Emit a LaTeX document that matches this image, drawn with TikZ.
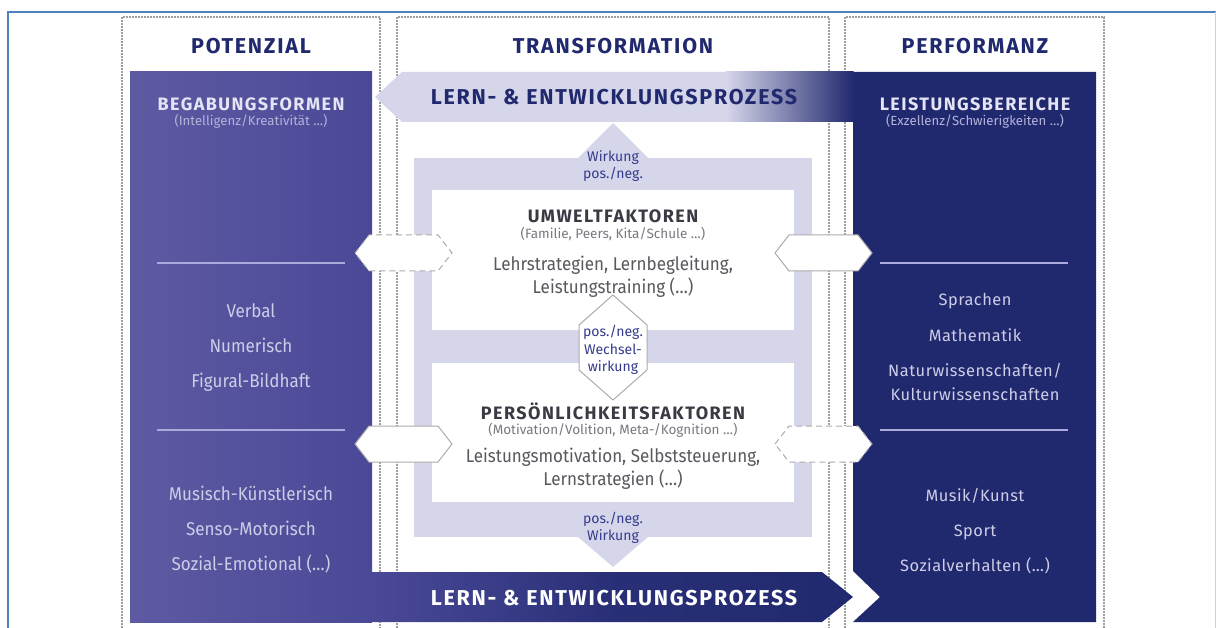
\documentclass[tikz,border=0pt]{standalone}
\usepackage{fontspec}
\setmainfont{Fira Sans}
\newfontfamily\spacedfont{Fira Sans}[LetterSpace=8]
\newfontfamily\narrowfont{Fira Sans}[FakeStretch=0.92]
\newfontfamily\widefont{Fira Sans}[LetterSpace=3]
\usepackage{tikz}
\usetikzlibrary{positioning}
\definecolor{navy}{RGB}{33,41,110}
\definecolor{lpurple}{RGB}{94,90,162}
\definecolor{mpurple}{RGB}{74,73,151}
\definecolor{lav}{RGB}{214,214,235}
\definecolor{framebl}{RGB}{79,129,189}
\definecolor{seplav}{RGB}{170,170,220}
\definecolor{boxhead}{RGB}{228,228,244}
\definecolor{boxsub}{RGB}{178,178,218}
\definecolor{itemlav}{RGB}{205,205,232}
\definecolor{darkgr}{RGB}{58,58,68}
\definecolor{midgr}{RGB}{120,120,128}
\definecolor{bodygr}{RGB}{88,88,94}
\definecolor{effblue}{RGB}{52,58,140}
\tikzset{
	col_head/.style = {font=\spacedfont\bfseries\fontsize{21.5}{23}\selectfont, text=navy},% Spaltenkopf
	proc_txt/.style = {font=\spacedfont\bfseries\fontsize{21.5}{24}\selectfont},% Prozesspfeil
	box_head/.style = {font=\spacedfont\bfseries\fontsize{18}{20}\selectfont, text=boxhead},
	box_sub/.style = {font=\fontsize{13.2}{15}\selectfont, text=boxsub},
	item_l/.style = {font=\narrowfont\fontsize{18.5}{20}\selectfont, text=itemlav,
		inner sep=0pt, text height=12.5pt, text depth=3.5pt},
	item_r/.style = {font=\widefont\fontsize{16.4}{22}\selectfont, text=itemlav,
		inner sep=0pt, text height=11.5pt, text depth=3.5pt},
	fac_head/.style = {font=\spacedfont\bfseries\fontsize{18}{20}\selectfont, text=darkgr},
	fac_sub/.style = {font=\fontsize{13.5}{15}\selectfont, text=midgr},
	fac_body/.style = {font=\narrowfont\fontsize{18.5}{23.5}\selectfont, text=bodygr, align=center},
	effect/.style = {font=\fontsize{14}{17.5}\selectfont, text=effblue, align=center},
	dot_col/.style = {draw=gray!75, line width=1.6pt, dash pattern=on 1.6pt off 1.4pt},
	link_hex/.style = {fill=white, draw=gray!65, line width=1pt},% Verbindungs-Sechseck
	ldash/.style = {dash pattern=on 6pt off 4pt},
	sep_line/.style = {draw=seplav, line width=1.5pt}
}
\begin{document}
\begin{tikzpicture}[x=1pt, y=-1pt]
\useasboundingbox (0,0) rectangle (1216,628);
\draw[framebl, line width=1.2pt] (8,628) |- (1216,12);
\draw[framebl!35, line width=1pt] (1215,12) -- (1215,628);

% Spalten (gepunktet)
\draw[dot_col] (122,628) |- (380,17) -- (380,628);
\draw[dot_col] (397,628) |- (829,17) -- (829,628);
\draw[dot_col] (845,628) |- (1104,17) -- (1104,628);

% Rahmen um die Faktoren
\fill[lav] (414,158) rectangle (812,537);
\fill[lav] (578,158) -- (613,123) -- (648,158) -- cycle;
\fill[lav] (578,537) -- (613,567) -- (648,537) -- cycle;
\fill[white] (432,190) rectangle (794,330);
\fill[white] (432,363) rectangle (794,502);

% Potenzial / Performanz
\shade[left color=lpurple, right color=mpurple] (130,72) rectangle (372,622);
\fill[navy] (853,72) -- (1096,72) -- (1096,622) -- (853,622) -- (880,597) -- (853,571) -- cycle;

% Prozesspfeile
\fill[lav] (375,97) -- (402,72) -- (726,72) -- (726,122) -- (402,122) -- cycle;
\shade[left color=lav, right color=navy] (725.5,72) rectangle (853.5,122);
\shade[left color=mpurple, right color=navy, middle color=navy!80!mpurple]
	(372,572) -- (822,572) -- (853,597) -- (822,622) -- (372,622) -- cycle;

% Verbindungen
\foreach \cx/\cy/\ls in {403.5/253/ldash, 403.5/444/solid, 823.5/253/solid, 823.5/444/ldash}
	\draw[link_hex, \ls] (\cx-48.5,\cy) -- (\cx-34.5,\cy-18) -- (\cx+34.5,\cy-18)
		-- (\cx+48.5,\cy) -- (\cx+34.5,\cy+18) -- (\cx-34.5,\cy+18) -- cycle;
\draw[link_hex] (613,295) -- (647,325) -- (647,370) -- (613,400) -- (579,370) -- (579,325) -- cycle;

\draw[sep_line] (157,263) -- (345,263);
\draw[sep_line] (157,430) -- (345,430);
\draw[sep_line] (880,263) -- (1068,263);
\draw[sep_line] (880,430) -- (1068,430);

% Texte
\node[col_head] (pot) at (251,46) {POTENZIAL};
\node[col_head] (trans) at (613,46) {TRANSFORMATION};
\node[col_head] (perf) at (975,46) {PERFORMANZ};
\node[proc_txt, text=navy] (procTop) at (614,97) {LERN- \& ENTWICKLUNGSPROZESS};
\node[proc_txt, text=white] (procBot) at (614,598) {LERN- \& ENTWICKLUNGSPROZESS};

\node[box_head] (begab) at (251,104) {BEGABUNGSFORMEN};
\node[box_sub, below=-3pt of begab] (begabSub) {(Intelligenz/Kreativität …)};
\node[item_l] (verbal) at (251,313) {Verbal};
\node[item_l, below=18.5pt of verbal] (numer) {Numerisch};
\node[item_l, below=18.5pt of numer] (figural) {Figural-Bildhaft};
\node[item_l] (musisch) at (251,496) {Musisch-Künstlerisch};
\node[item_l, below=18.5pt of musisch] (senso) {Senso-Motorisch};
\node[item_l, below=18.5pt of senso] (sozial) {Sozial-Emotional (…)};

\node[box_head] (leist) at (975,104) {LEISTUNGSBEREICHE};
\node[box_sub, below=-3pt of leist] (leistSub) {(Exzellenz/Schwierigkeiten …)};
\node[item_r] (sprach) at (975,302) {Sprachen};
\node[item_r, below=20pt of sprach] (mathe) {Mathematik};
\node[item_r, below=20pt of mathe] (natur) {Naturwissenschaften/};
\node[item_r, below=8pt of natur] (kultur) {Kulturwissenschaften};
\node[item_r] (musik) at (975,497) {Musik/Kunst};
\node[item_r, below=20pt of musik] (sport) {Sport};
\node[item_r, below=20pt of sport] (sozverh) {Sozialverhalten (…)};

\node[effect] (wirkTop) at (613,166) {Wirkung\\pos./neg.};
\node[fac_head] (umwelt) at (613,216) {UMWELTFAKTOREN};
\node[fac_sub, below=-3pt of umwelt] (umweltSub) {(Familie, Peers, Kita/Schule …)};
\node[fac_body] (umweltTxt) at (613,277) {Lehrstrategien, Lernbegleitung,\\Leistungstraining (…)};
\node[effect] (wechsel) at (613,350) {pos./neg.\\Wechsel-\\wirkung};
\node[fac_head] (pers) at (613,411) {PERSÖNLICHKEITSFAKTOREN};
\node[fac_sub, below=-3pt of pers] (persSub) {(Motivation/Volition, Meta-/Kognition …)};
\node[fac_body] (persTxt) at (613,469) {Leistungsmotivation, Selbststeuerung,\\Lernstrategien (…)};
\node[effect] (wirkBot) at (613,528) {pos./neg.\\Wirkung};
\end{tikzpicture}
\end{document}
